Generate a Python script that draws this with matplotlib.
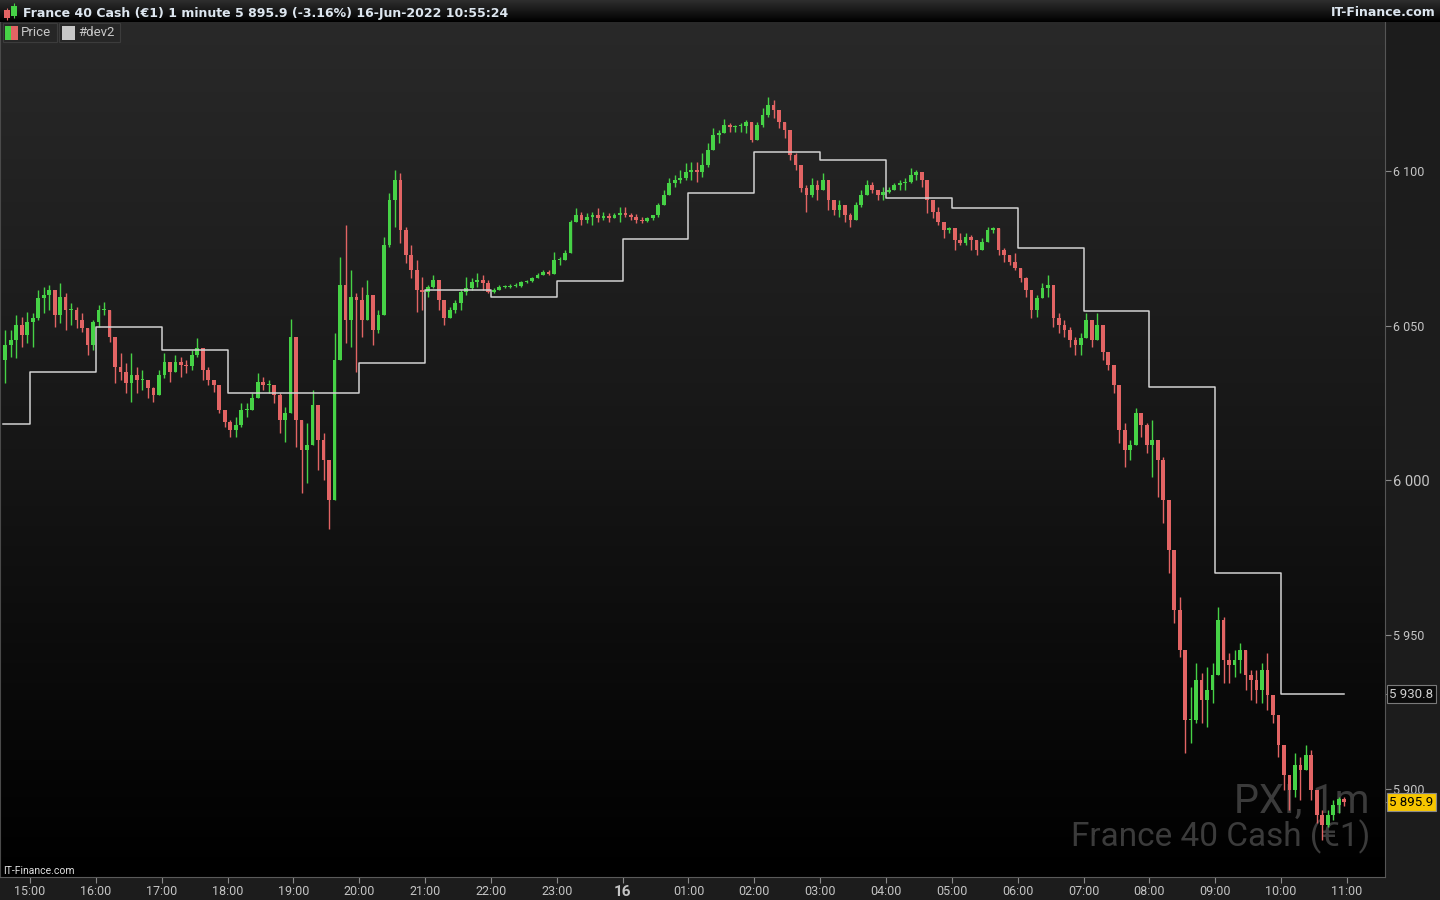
import numpy as np
import pandas as pd
import matplotlib
matplotlib.use("Agg")
import matplotlib.pyplot as plt
from matplotlib.patches import Rectangle
from matplotlib.colors import LinearSegmentedColormap
from matplotlib.transforms import blended_transform_factory

plt.rcParams['font.family'] = ['Roboto', 'DejaVu Sans']

first_bar = "2022-06-15 14:35"
first_open = 6038.9

close = [
    6043.7, 6045.4, 6050.2, 6047.0, 6051.2,
    6052.5, 6058.9, 6059.9, 6061.5, 6053.4, 6059.3, 6055.1, 6055.1, 6051.8, 6049.2, 6043.7, 6051.2,
    6055.1, 6055.1, 6046.3, 6036.6, 6035.0, 6031.5, 6034.0, 6032.4, 6032.4, 6029.8, 6027.6, 6034.0,
    6038.2, 6035.0, 6038.2, 6037.3, 6037.0, 6040.5, 6042.8, 6035.7, 6032.4, 6030.8, 6022.7, 6018.9,
    6016.3, 6017.9, 6022.7, 6022.7, 6026.6, 6031.8, 6030.8, 6030.8, 6027.6, 6019.5, 6021.8, 6046.3,
    6019.5, 6009.8, 6011.4, 6024.3, 6013.0, 6006.6, 5993.6, 6038.9, 6063.1, 6051.8, 6059.3, 6058.3,
    6051.8, 6059.9, 6048.6, 6053.4, 6076.1, 6090.6, 6097.1, 6080.9, 6072.8, 6068.0, 6061.5, 6060.9,
    6062.5, 6064.8, 6058.3, 6052.5, 6055.1, 6057.3, 6060.9, 6062.2, 6064.1, 6064.8, 6063.8, 6060.9,
    6061.5, 6062.5, 6062.5, 6062.8, 6062.8, 6064.1, 6064.4, 6065.4, 6066.4, 6067.3, 6066.7, 6071.2,
    6071.2, 6073.5, 6083.5, 6085.8, 6084.2, 6085.1, 6085.8, 6084.8, 6085.5, 6084.8, 6085.8, 6086.4,
    6085.8, 6085.1, 6084.2, 6083.8, 6084.8, 6085.8, 6089.0, 6092.2, 6096.1, 6097.1, 6097.7, 6099.7,
    6100.3, 6099.7, 6101.9, 6106.8, 6111.6, 6112.3, 6114.9, 6114.2, 6114.5, 6114.5, 6115.8, 6110.0,
    6114.9, 6118.1, 6121.3, 6119.7, 6115.8, 6113.3, 6105.2, 6101.9, 6094.5, 6092.2, 6095.5, 6093.9,
    6097.1, 6090.6, 6087.4, 6089.0, 6085.8, 6084.2, 6089.0, 6092.2, 6095.5, 6093.9, 6092.2, 6093.2,
    6093.9, 6095.5, 6096.1, 6096.4, 6098.7, 6099.7, 6097.1, 6090.6, 6086.7, 6083.5, 6080.9, 6081.6,
    6077.7, 6076.7, 6078.7, 6077.7, 6074.5, 6077.0, 6080.9, 6081.6, 6074.5, 6072.8, 6070.6, 6068.6,
    6065.4, 6061.5, 6055.1, 6058.9, 6062.2, 6063.1, 6052.5, 6050.2, 6048.6, 6045.4, 6043.7, 6046.0,
    6051.8, 6045.4, 6050.2, 6041.5, 6037.3, 6030.8, 6016.3, 6009.8, 6011.4, 6021.8, 6017.9, 6011.4,
    6013.0, 6006.6, 5993.6, 5977.5, 5958.1, 5945.2, 5922.5, 5922.5, 5935.5, 5929.0, 5932.2, 5937.1,
    5954.8, 5941.9, 5940.3, 5941.9, 5945.2, 5937.1, 5935.5, 5932.2, 5938.7, 5930.6, 5924.1, 5914.4,
    5904.7, 5899.9, 5908.0, 5906.4, 5911.2, 5899.9, 5891.8, 5888.6, 5891.8, 5895.0, 5897.0, 5895.9,
]

high = [
    6048.6, 6048.6, 6053.4, 6052.8, 6054.4,
    6054.1, 6061.5, 6062.5, 6063.1, 6059.3, 6063.8, 6060.6, 6057.3, 6056.0, 6054.1, 6047.6, 6051.8,
    6056.7, 6057.6, 6055.1, 6041.5, 6041.2, 6037.9, 6041.2, 6036.6, 6035.7, 6032.4, 6030.2, 6035.7,
    6041.2, 6036.6, 6040.5, 6039.9, 6038.9, 6042.1, 6046.0, 6041.5, 6036.6, 6032.4, 6029.2, 6022.7,
    6019.5, 6020.5, 6025.0, 6025.0, 6028.2, 6034.7, 6033.4, 6032.4, 6030.2, 6028.2, 6023.7, 6052.2,
    6044.7, 6017.2, 6018.5, 6029.2, 6022.7, 6015.3, 6001.1, 6047.6, 6072.2, 6082.5, 6068.0, 6060.6,
    6062.5, 6064.8, 6056.0, 6055.1, 6078.7, 6092.9, 6100.3, 6099.4, 6081.9, 6076.1, 6071.2, 6065.7,
    6063.1, 6066.4, 6062.5, 6056.0, 6056.0, 6058.3, 6061.5, 6065.7, 6065.4, 6067.0, 6066.4, 6064.8,
    6062.2, 6063.1, 6063.1, 6063.5, 6063.8, 6064.4, 6064.8, 6065.7, 6067.0, 6068.0, 6068.0, 6073.8,
    6072.2, 6074.5, 6084.2, 6088.0, 6086.7, 6086.4, 6086.7, 6088.0, 6086.7, 6086.4, 6086.4, 6088.4,
    6088.4, 6086.4, 6086.0, 6085.1, 6085.1, 6085.8, 6089.7, 6093.9, 6097.7, 6098.7, 6100.3, 6102.6,
    6102.9, 6102.9, 6105.8, 6109.1, 6113.9, 6113.3, 6116.8, 6115.5, 6114.9, 6115.5, 6116.5, 6113.9,
    6115.8, 6120.4, 6123.9, 6123.0, 6119.7, 6114.2, 6110.7, 6105.8, 6099.4, 6095.5, 6097.7, 6097.1,
    6099.4, 6096.1, 6090.6, 6090.6, 6088.4, 6086.4, 6090.0, 6093.9, 6097.1, 6096.4, 6093.9, 6094.8,
    6094.8, 6096.1, 6097.1, 6097.7, 6101.0, 6100.3, 6099.4, 6093.9, 6090.0, 6088.4, 6081.9, 6081.9,
    6080.0, 6080.0, 6080.0, 6079.3, 6077.7, 6078.3, 6081.9, 6081.9, 6080.9, 6075.1, 6072.8, 6073.5,
    6068.0, 6065.7, 6060.6, 6059.9, 6063.8, 6066.4, 6059.3, 6054.1, 6051.8, 6049.6, 6046.3, 6047.6,
    6054.1, 6047.9, 6054.1, 6047.6, 6039.9, 6036.6, 6028.2, 6018.5, 6013.0, 6023.4, 6019.5, 6018.5,
    6019.5, 6012.1, 6007.5, 5987.2, 5966.8, 5962.3, 5945.2, 5933.2, 5940.9, 5937.7, 5939.6, 5940.9,
    5959.0, 5955.8, 5944.2, 5945.2, 5947.4, 5945.2, 5938.7, 5938.7, 5940.9, 5944.2, 5929.0, 5923.5,
    5910.5, 5902.1, 5911.8, 5910.5, 5914.4, 5912.8, 5896.6, 5893.4, 5893.4, 5896.6, 5897.6, 5897.6,
]

low = [
    6031.5, 6039.9, 6039.6, 6043.1, 6044.4,
    6043.1, 6051.8, 6054.1, 6055.1, 6049.6, 6050.9, 6048.6, 6050.2, 6049.2, 6047.9, 6040.5, 6042.1,
    6049.6, 6053.4, 6044.7, 6031.5, 6032.4, 6028.2, 6025.3, 6028.2, 6029.2, 6026.6, 6025.3, 6028.2,
    6033.1, 6031.8, 6035.7, 6033.4, 6034.7, 6035.7, 6039.9, 6032.4, 6030.8, 6028.6, 6021.8, 6017.2,
    6014.0, 6014.0, 6017.2, 6020.5, 6022.7, 6028.2, 6029.2, 6028.2, 6025.0, 6015.3, 6012.4, 6028.2,
    6010.8, 5995.9, 5999.1, 6017.2, 6003.3, 6000.1, 5984.3, 5997.8, 6047.0, 6044.4, 6043.1, 6035.0,
    6046.3, 6054.1, 6043.7, 6047.6, 6062.5, 6075.4, 6081.9, 6076.7, 6070.3, 6065.4, 6054.4, 6055.1,
    6059.3, 6062.2, 6055.1, 6050.2, 6052.8, 6054.1, 6055.1, 6059.9, 6061.5, 6062.5, 6061.5, 6060.6,
    6060.6, 6061.9, 6062.2, 6062.2, 6062.5, 6062.5, 6063.8, 6064.1, 6065.4, 6066.4, 6066.4, 6066.7,
    6069.6, 6071.2, 6076.7, 6083.5, 6082.5, 6083.2, 6082.5, 6083.5, 6084.2, 6083.5, 6084.8, 6083.5,
    6085.1, 6084.2, 6083.2, 6083.2, 6083.5, 6084.2, 6085.1, 6089.0, 6092.9, 6094.8, 6096.1, 6097.1,
    6097.1, 6096.4, 6098.1, 6101.3, 6108.4, 6109.1, 6112.6, 6112.6, 6112.6, 6112.6, 6112.3, 6109.4,
    6111.0, 6114.2, 6117.5, 6117.1, 6113.9, 6110.7, 6103.6, 6100.3, 6093.2, 6086.7, 6091.6, 6090.6,
    6093.9, 6087.4, 6085.8, 6085.1, 6083.5, 6081.9, 6086.4, 6088.4, 6092.9, 6092.9, 6090.6, 6090.6,
    6092.9, 6093.9, 6093.9, 6093.9, 6096.1, 6097.1, 6094.8, 6086.4, 6084.8, 6082.5, 6078.3, 6080.0,
    6074.5, 6076.1, 6076.1, 6074.5, 6072.8, 6074.5, 6077.7, 6080.0, 6072.8, 6070.6, 6069.6, 6068.0,
    6064.1, 6059.3, 6052.5, 6052.8, 6059.3, 6059.3, 6049.6, 6047.6, 6046.3, 6043.1, 6040.5, 6040.5,
    6046.3, 6043.1, 6045.4, 6038.9, 6035.7, 6028.2, 6012.1, 6004.3, 6006.6, 6016.3, 6014.0, 6008.8,
    6001.1, 5994.6, 5986.2, 5970.0, 5953.9, 5942.9, 5911.8, 5915.1, 5921.5, 5921.5, 5920.2, 5928.0,
    5945.2, 5934.5, 5934.5, 5936.4, 5937.7, 5932.2, 5929.0, 5928.0, 5928.0, 5925.7, 5921.5, 5910.5,
    5899.9, 5893.4, 5897.6, 5896.6, 5906.4, 5896.6, 5889.2, 5883.7, 5887.9, 5890.2, 5892.4, 5894.5,
]

# #dev2 : one level per hour
dev2_start = ["2022-06-15 14:35", "2022-06-15 15:00", "2022-06-15 16:00", "2022-06-15 17:00",
              "2022-06-15 18:00", "2022-06-15 19:00", "2022-06-15 20:00", "2022-06-15 21:00",
              "2022-06-15 22:00", "2022-06-15 23:00", "2022-06-16 00:00", "2022-06-16 01:00",
              "2022-06-16 02:00", "2022-06-16 03:00", "2022-06-16 04:00", "2022-06-16 05:00",
              "2022-06-16 06:00", "2022-06-16 07:00", "2022-06-16 08:00", "2022-06-16 09:00",
              "2022-06-16 10:00"]
dev2 = [6018.2, 6035.0, 6049.6, 6042.1, 6028.2, 6028.2, 6037.9, 6061.5, 6059.3, 6064.4, 6078.0,
        6092.9, 6106.1, 6103.6, 6091.3, 6088.0, 6075.1, 6054.7, 6030.2, 5970.0, 5930.8]

yticks = [5900, 5950, 6000, 6050, 6100]
ytick_labels = ["5 900", "5 950", "6 000", "6 050", "6 100"]
xtick_labels = ["15:00", "16:00", "17:00", "18:00", "19:00", "20:00", "21:00", "22:00", "23:00",
                "16", "01:00", "02:00", "03:00", "04:00", "05:00", "06:00", "07:00", "08:00",
                "09:00", "10:00", "11:00"]

title = "France 40 Cash (\u20ac1) 1 minute 5 895.9 (-3.16%) 16-Jun-2022 10:55:24"
last_price = 5895.9
last_label = "5 895.9"
dev2_label = "5 930.8"

GREEN = "#46d246"
RED = "#e26464"

W, H = 1440, 900
fig = plt.figure(figsize=(W / 100, H / 100), dpi=100, facecolor="#1c1c1c")


def px_rect(x0, y0, x1, y1):
    return [x0 / W, 1 - y1 / H, (x1 - x0) / W, (y1 - y0) / H]


t0 = pd.Timestamp("2022-06-15 15:00")
times = pd.date_range(first_bar, periods=len(close), freq="5min")
x = np.asarray((times - t0) / pd.Timedelta(minutes=1)) + 2.5
c = np.array(close)
o = np.array([first_open] + close[:-1])
hi = np.maximum(np.array(high), np.maximum(o, c))
lo = np.minimum(np.array(low), np.minimum(o, c))
up = c >= o
cols = np.where(up, GREEN, RED)

xmin, xmax = -27.3, 1234.6
ymin, ymax = 5871.7, 6148.2

ax = fig.add_axes(px_rect(0, 22, 1385, 877))
bg = LinearSegmentedColormap.from_list("bg", ["#292929", "#161616", "#000000"])
ax.imshow(np.linspace(0, 1, 256).reshape(-1, 1), cmap=bg, aspect="auto",
          extent=[xmin, xmax, ymin, ymax], origin="upper", zorder=0)

ax.vlines(x, lo, hi, colors=cols, lw=1.0, zorder=3)
ax.bar(x, np.maximum(np.abs(c - o), 0.35), bottom=np.minimum(o, c), width=3.4,
       color=cols, linewidth=0, zorder=3)

dev2_t = pd.to_datetime(dev2_start, format="%Y-%m-%d %H:%M")
dx = list(np.asarray((dev2_t - t0) / pd.Timedelta(minutes=1))) + [x[-1]]
ax.plot(dx, dev2 + [dev2[-1]], drawstyle="steps-post", color="#d2d2d2", lw=1.1, zorder=4)

ax.set_xlim(xmin, xmax)
ax.set_ylim(ymin, ymax)

ax.yaxis.tick_right()
ax.set_yticks(yticks, labels=ytick_labels)
ax.set_yticks([dev2[-1], last_price], minor=True)
ax.tick_params(axis="y", which="both", length=4, color="#8a8a8a", labelcolor="#c4c4c4",
               labelsize=9, pad=2)
ax.get_yticklabels()[2].set_fontsize(10.5)

ax.set_xticks(np.arange(0, 1201, 60), labels=xtick_labels)
ax.tick_params(axis="x", length=4, color="#8a8a8a", labelcolor="#c4c4c4", labelsize=9, pad=2)
lbl16 = ax.get_xticklabels()[9]
lbl16.set_fontsize(11)
lbl16.set_fontweight("bold")

ax.spines["top"].set_visible(False)
ax.spines["left"].set_color("#4a4a4a")
ax.spines["right"].set_color("#555555")
ax.spines["bottom"].set_color("#5a5a5a")

# price boxes on the axis
tr = blended_transform_factory(ax.transAxes, ax.transData)
ax.text(1 + 4 / 1385, dev2[-1], dev2_label, transform=tr, ha="left", va="center",
        fontsize=9.5, color="#d0d0d0", clip_on=False, zorder=6,
        bbox=dict(boxstyle="square,pad=0.18", fc="#0b0b0b", ec="#7a7a7a", lw=0.8))
ax.text(1 + 4 / 1385, last_price, last_label, transform=tr, ha="left", va="center",
        fontsize=9.5, color="#000000", clip_on=False, zorder=6,
        bbox=dict(boxstyle="square,pad=0.18", fc="#f7c600", ec="#8a8a8a", lw=0.8))

# watermark
ax.text(1370 / W, 1 - 813 / H, "PXI, 1m", transform=fig.transFigure, ha="right",
        va="baseline", fontsize=28.5, color="#3b3b3b", zorder=1)
ax.text(1370 / W, 1 - 846 / H, "France 40 Cash (\u20ac1)", transform=fig.transFigure,
        ha="right", va="baseline", fontsize=24, color="#3b3b3b", zorder=1)

fig.text(3 / W, 1 - 871 / H, "IT-Finance.com", fontsize=7.5, color="#e0e0e0", va="center")

# legend
fig.add_artist(Rectangle((3 / W, 1 - 42 / H), 54 / W, 19 / H, transform=fig.transFigure,
                         fc="#262626", ec="#3c3c3c", lw=0.8))
fig.add_artist(Rectangle((5 / W, 1 - 40 / H), 6 / W, 14 / H, transform=fig.transFigure,
                         fc=GREEN, lw=0))
fig.add_artist(Rectangle((11 / W, 1 - 40 / H), 7 / W, 14 / H, transform=fig.transFigure,
                         fc=RED, lw=0))
fig.text(21 / W, 1 - 33 / H, "Price", fontsize=9.5, color="#c8c8c8", va="center")
fig.add_artist(Rectangle((59 / W, 1 - 42 / H), 61 / W, 19 / H, transform=fig.transFigure,
                         fc="#262626", ec="#3c3c3c", lw=0.8))
fig.add_artist(Rectangle((62 / W, 1 - 40 / H), 13 / W, 14 / H, transform=fig.transFigure,
                         fc="#c8c8c8", lw=0))
fig.text(78 / W, 1 - 33 / H, "#dev2", fontsize=9.5, color="#c8c8c8", va="center")

# header bar
hax = fig.add_axes(px_rect(0, 0, 1440, 22))
hdr = LinearSegmentedColormap.from_list("hdr", ["#2e2e2e", "#000000"])
hax.imshow(np.linspace(0, 1, 64).reshape(-1, 1), cmap=hdr, aspect="auto",
           extent=[0, W, 22, 0], origin="upper")
hax.set_xlim(0, W)
hax.set_ylim(22, 0)
hax.axis("off")
hax.add_patch(Rectangle((4, 10), 6, 8, fc=RED, lw=0))
hax.vlines(7, 8, 20, color=RED, lw=0.8)
hax.add_patch(Rectangle((11, 6), 6, 10, fc=GREEN, lw=0))
hax.vlines(14, 3, 18, color=GREEN, lw=0.8)
hax.text(23, 13, title, fontsize=9.0, fontweight="bold", color="#dde6ef", va="center",
         family="DejaVu Sans")
hax.text(1436, 13, "IT-Finance.com", fontsize=9.0, fontweight="bold", color="#dde6ef",
         va="center", ha="right", family="DejaVu Sans")

fig.savefig("out.png", dpi=100, facecolor=fig.get_facecolor())
